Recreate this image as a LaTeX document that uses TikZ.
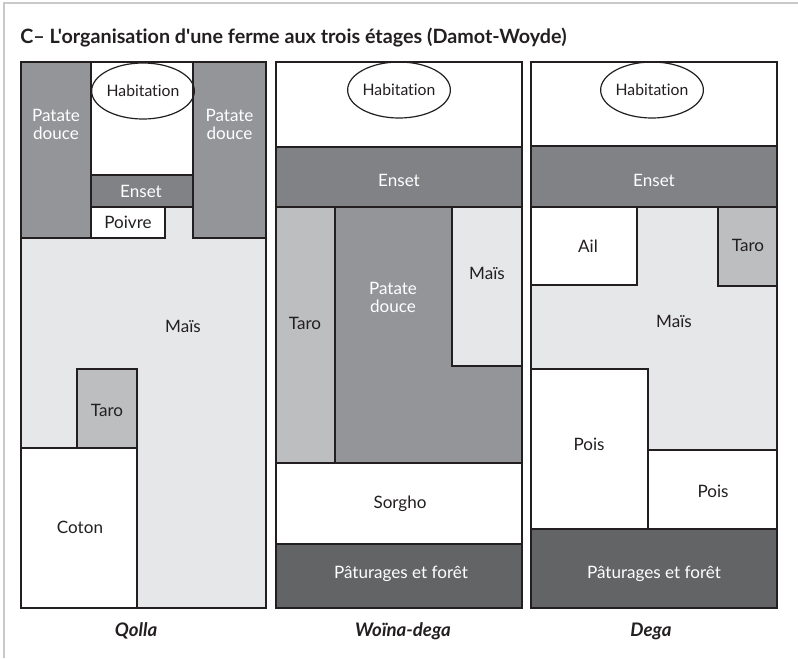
\documentclass[tikz,border=0pt]{standalone}
\usepackage{fontspec}
\setmainfont{Lato}[Ligatures={TeXOff,NoCommon}]
\usetikzlibrary{shapes.geometric}
\definecolor{mais}{HTML}{E6E7E8}
\definecolor{taro}{HTML}{BCBEC0}
\definecolor{patate}{HTML}{939598}
\definecolor{enset}{HTML}{808285}
\definecolor{patur}{HTML}{636466}
\definecolor{ink}{HTML}{231F20}
\definecolor{framec}{HTML}{C8C9CA}
\begin{document}
\begin{tikzpicture}[x=0.75pt,y=-0.75pt,
  zone/.style={draw=ink,line width=1.3pt},
  outerbox/.style={draw=ink,line width=2pt},
  lbl/.style={font=\fontsize{12.8}{13.5}\selectfont,text=ink,inner sep=0pt,align=center},
  wlbl/.style={lbl,text=white},
  hab/.style={ellipse,draw=ink,line width=0.9pt,minimum width=61.5pt,minimum height=42pt,inner sep=0pt,font=\fontsize{11.8}{12.5}\selectfont,text=ink},
  caption/.style={font=\bfseries\itshape\fontsize{14}{16}\selectfont,text=ink,inner sep=0pt}
]
\useasboundingbox (0,0) rectangle (798,658);
\draw[framec,line width=1.5pt] (798,3) -- (4,3) -- (4,658);
\node[anchor=base west,inner sep=0pt,text=ink,font=\bfseries\fontsize{14.8}{16}\selectfont] (title) at (20,43) {C– L'organisation d'une ferme aux trois étages (Damot-Woyde)};

% ---------- Panel 1 : Qolla ----------
\fill[mais] (21,62) rectangle (266,608);
\path[zone,fill=patate] (21,62) rectangle (91,238);
\path[zone,fill=white] (91,62) rectangle (193,175);
\path[zone,fill=enset] (91,175) rectangle (193,207);
\path[zone,fill=white] (91,207) rectangle (165,238);
\path[zone,fill=patate] (193,62) rectangle (266,238);
\path[zone,fill=taro] (77,369) rectangle (137,448);
\path[zone,fill=white] (21,448) rectangle (137,608);
\draw[outerbox] (21,62) rectangle (266,608);
\node[hab] (hab1) at (143,91) {Habitation};
\node[wlbl] (pat1a) at (56,124) {Patate\\douce};
\node[wlbl] (pat1b) at (229.5,124) {Patate\\douce};
\node[wlbl] (ens1) at (141,191) {Enset};
\node[lbl] (poi1) at (128,222) {Poivre};
\node[lbl] (mai1) at (183,326) {Maïs};
\node[lbl] (tar1) at (107,410) {Taro};
\node[lbl] (cot1) at (80,527) {Coton};
\node[caption] (q1) at (136,631) {Qolla};

% ---------- Panel 2 : Woïna-dega ----------
\path[zone,fill=white] (276,62) rectangle (522,147);
\path[zone,fill=enset] (276,147) rectangle (522,207);
\path[zone,fill=taro] (276,207) rectangle (335,463);
\path[zone,fill=patate] (335,207) rectangle (522,463);
\path[zone,fill=mais] (452,207) rectangle (522,366);
\path[zone,fill=white] (276,463) rectangle (522,544);
\path[zone,fill=patur] (276,544) rectangle (522,608);
\draw[outerbox] (276,62) rectangle (522,608);
\node[hab] (hab2) at (399,90) {Habitation};
\node[wlbl] (ens2) at (399,180) {Enset};
\node[lbl] (tar2) at (305,323) {Taro};
\node[wlbl] (pat2) at (393,297) {Patate\\douce};
\node[lbl] (mai2) at (487,273) {Maïs};
\node[lbl] (sor2) at (400,504) {Sorgho};
\node[wlbl] (pat2b) at (401,574) {Pâturages et forêt};
\node[caption] (q2) at (403,631) {Woïna-dega};

% ---------- Panel 3 : Dega ----------
\fill[mais] (531,62) rectangle (777,608);
\path[zone,fill=white] (531,62) rectangle (777,146);
\path[zone,fill=enset] (531,146) rectangle (777,207);
\path[zone,fill=white] (531,207) rectangle (637,285);
\path[zone,fill=taro] (718,207) rectangle (777,286);
\path[zone,fill=white] (531,369) rectangle (648,529);
\path[zone,fill=white] (648,450) rectangle (777,529);
\path[zone,fill=patur] (531,529) rectangle (777,608);
\draw[outerbox] (531,62) rectangle (777,608);
\node[hab] (hab3) at (652,90) {Habitation};
\node[wlbl] (ens3) at (654,180) {Enset};
\node[lbl] (ail3) at (588,246) {Ail};
\node[lbl] (tar3) at (748,245) {Taro};
\node[lbl] (mai3) at (674,321) {Maïs};
\node[lbl] (poi3a) at (589,444) {Pois};
\node[lbl] (poi3b) at (713,491) {Pois};
\node[wlbl] (pat3) at (654,574) {Pâturages et forêt};
\node[caption] (q3) at (651,631) {Dega};
\end{tikzpicture}
\end{document}
